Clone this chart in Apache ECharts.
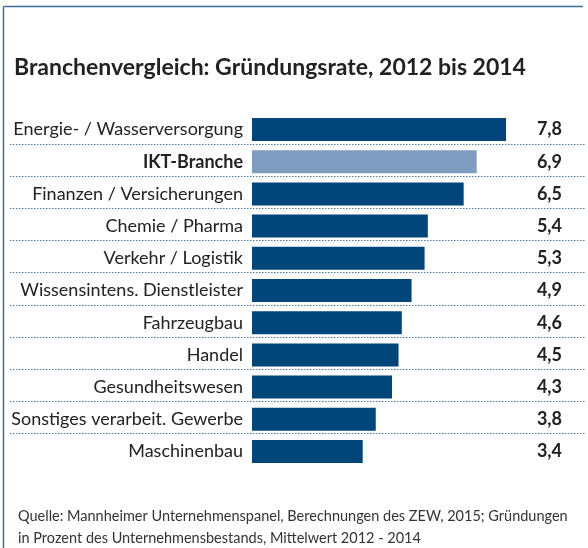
<!DOCTYPE html>
<html>
<head>
<meta charset="utf-8">
<script src="https://cdn.jsdelivr.net/npm/echarts@6/dist/echarts.min.js"></script>
<style>
  html, body { margin: 0; padding: 0; background: #ffffff; }
  #chart { width: 588px; height: 548px; }
</style>
</head>
<body>
<div id="chart"></div>
<script>
// Branchen, von oben nach unten
const categories = [
  'Energie- / Wasserversorgung',
  'IKT-Branche',
  'Finanzen / Versicherungen',
  'Chemie / Pharma',
  'Verkehr / Logistik',
  'Wissensintens. Dienstleister',
  'Fahrzeugbau',
  'Handel',
  'Gesundheitswesen',
  'Sonstiges verarbeit. Gewerbe',
  'Maschinenbau'
];
// Gründungsrate in %
const values = [7.8, 6.9, 6.5, 5.4, 5.3, 4.9, 4.6, 4.5, 4.3, 3.8, 3.4];
const highlight = 'IKT-Branche';

const titleText = 'Branchenvergleich: Gründungsrate, 2012 bis 2014';
const sourceText = 'Quelle: Mannheimer Unternehmenspanel, Berechnungen des ZEW, 2015; Gründungen\nin Prozent des Unternehmensbestands, Mittelwert 2012 - 2014';

const fontFamily = 'Lato';
const darkBlue = '#00467b';
const lightBlue = '#7f9dc1';
const lineBlue = '#4f7aa6';

const myChart = echarts.init(document.getElementById('chart'));

const option = {
  animation: false,
  backgroundColor: '#ffffff',
  title: [
    {
      text: titleText,
      left: 14,
      top: 56,
      padding: 0,
      textStyle: {fontFamily, fontSize: 23, fontWeight: 'bold', color: '#222222'}
    },
    {
      text: sourceText,
      left: 18,
      top: 505,
      padding: 0,
      textStyle: {fontFamily, fontSize: 14.5, fontWeight: 'normal', color: '#333333', lineHeight: 22}
    }
  ],
  grid: {left: 252, right: 82, top: 113.4, height: 354.2, containLabel: false},
  xAxis: {
    type: 'value',
    min: 0,
    max: 7.8,
    show: false
  },
  yAxis: [
    {
      type: 'category',
      data: categories,
      inverse: true,
      position: 'left',
      axisLine: {show: false},
      axisTick: {show: false},
      axisLabel: {
        margin: 9,
        fontFamily,
        fontSize: 18,
        color: '#222222',
        formatter: function (v) {
          return v === highlight ? '{b|' + v + '}' : v;
        },
        rich: {
          b: {fontFamily, fontSize: 18, fontWeight: 'bold', color: '#222222'}
        }
      }
    },
    {
      type: 'category',
      data: values.map(v => v.toFixed(1).replace('.', ',')),
      inverse: true,
      position: 'right',
      axisLine: {show: false},
      axisTick: {show: false},
      axisLabel: {
        margin: 56,
        align: 'right',
        fontFamily,
        fontSize: 18,
        fontWeight: 'bold',
        color: '#222222'
      }
    }
  ],
  series: [
    {
      type: 'bar',
      yAxisIndex: 0,
      barWidth: 23,
      data: values.map((v, i) => ({
        value: v,
        itemStyle: {color: categories[i] === highlight ? lightBlue : darkBlue}
      }))
    }
  ]
};
myChart.setOption(option);

// Rahmen und gepunktete Trennlinien unter den Zeilen
const graphics = [
  {type: 'line', shape: {x1: 3.5, y1: 6.5, x2: 583, y2: 6.5}, style: {stroke: '#3f6d98', lineWidth: 1.5}},
  {type: 'line', shape: {x1: 3.5, y1: 6.5, x2: 3.5, y2: 548}, style: {stroke: '#3f6d98', lineWidth: 1.5}}
];
categories.slice(0, -1).forEach(function (c) {
  const y = Math.round(myChart.convertToPixel({yAxisIndex: 0}, c) + 14) + 0.5;
  graphics.push({
    type: 'line',
    shape: {x1: 10, y1: y, x2: 585, y2: y},
    style: {stroke: lineBlue, lineWidth: 1, lineDash: [1.5, 1.5]}
  });
});
myChart.setOption({graphic: graphics});

window.addEventListener('resize', function () {
  myChart.resize();
});
</script>
</body>
</html>
